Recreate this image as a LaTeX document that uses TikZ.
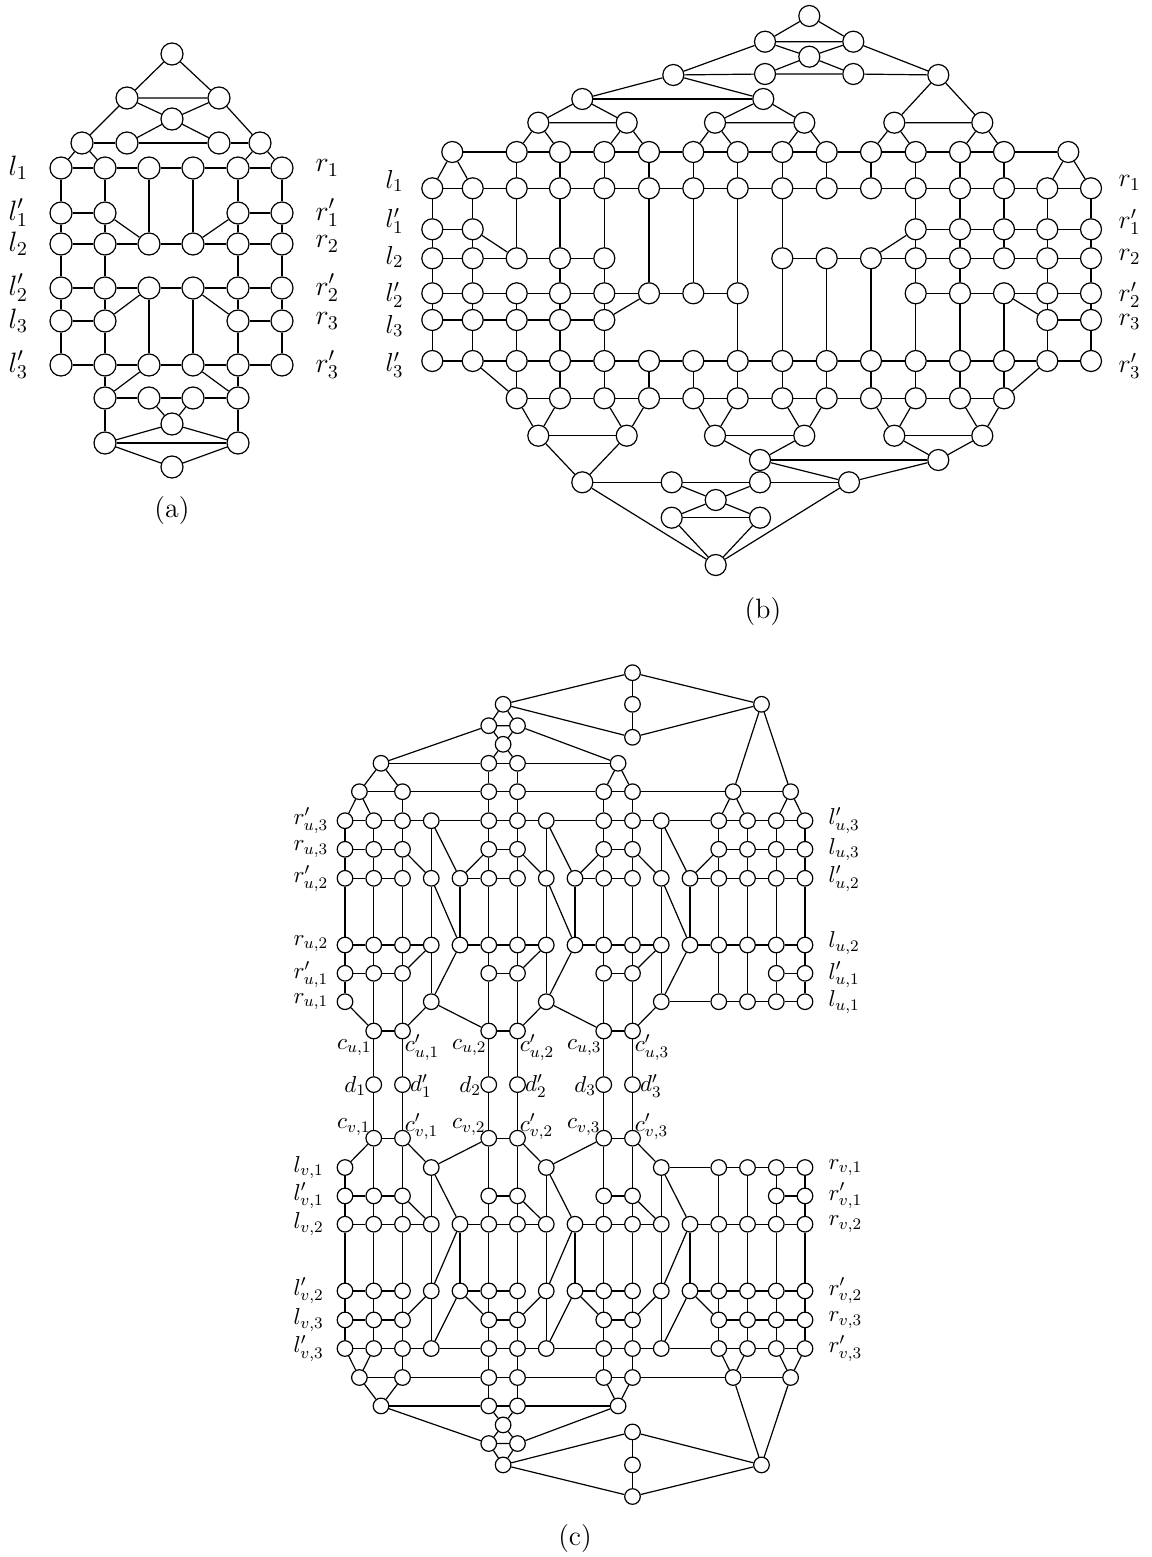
\RequirePackage{fix-cm}
\documentclass[tikz,border=0pt]{standalone}
\tikzset{
 va/.style={circle,draw,fill=white,inner sep=0pt,minimum size=11pt},
 vb/.style={circle,draw,fill=white,inner sep=0pt,minimum size=10.5pt},
 vc/.style={circle,draw,fill=white,inner sep=0pt,minimum size=7.8pt},
 laba/.style={inner sep=0pt,anchor=west,font=\fontsize{14}{16}\selectfont},
 labb/.style={inner sep=0pt,anchor=west,font=\fontsize{13}{15}\selectfont},
 labc/.style={inner sep=0pt,font=\fontsize{11.5}{13}\selectfont},
 captxt/.style={inner sep=0pt,font=\fontsize{14}{16}\selectfont}
}
\newcommand\hchain[3]{\foreach \ii in {#2,...,#3}{\pgfmathtruncatemacro\jj{\ii+1}\draw (#1-\ii)--(#1-\jj);}}
\newcommand\vedge[3]{\foreach \ii in {#3}{\draw (#1-\ii)--(#2-\ii);}}
\newcommand\pedge[3]{\foreach \pa/\pb in {#3}{\draw (#1-\pa)--(#2-\pb);}}
\newcommand\chalf[3]{%
 \foreach \rr/\yy/\colset in {1/820.7/{0,1,2,3,5,6,7,9,10,11,13,14,15,16},2/849.3/{0,1,2,5,6,9,10,13,14,15,16},3/878.3/{0,...,16},4/945/{0,...,16},5/973.3/{0,1,2,5,6,9,10,15,16},6/1001.7/{0,3,7,11,13,14,15,16},7/1031/{1,2,5,6,9,10}}{%
   \foreach \cc in \colset {\node[vc] (#1-\rr-\cc) at ({345+28.75*\cc},{#3+(#2)*\yy}) {};}}
 \foreach \nn/\xx/\yy in {X0/359.4/791.7,X2/402.5/791.7,X5/488.75/791.7,X6/517.5/791.7,X9/603.75/791.7,X10/632.5/791.7,X13/733.1/791.7,X15/790.6/791.7,Y/381/763.3,N5/488.75/763.3,N6/517.5/763.3,W/618.1/763.3,Q/503.1/744.3,P5/488.75/725.7,P6/517.5/725.7,J/503.1/704.3,R/761.5/704.3,K0/632.5/672.7,K1/632.5/704.3,K2/632.5/737.3}
   {\node[vc] (#1\nn) at (\xx,{#3+(#2)*\yy}) {};}
}
\newcommand\cedges[1]{%
\draw (#1K0)--(#1K1)--(#1K2);
\draw (#1J)--(#1K0)--(#1R);
\draw (#1J)--(#1K2)--(#1R);
\draw (#1P5)--(#1J)--(#1P6)--(#1P5);
\draw (#1Y)--(#1P5); \draw (#1W)--(#1P6);
\draw (#1P5)--(#1Q)--(#1P6); \draw (#1N5)--(#1Q)--(#1N6);
\draw (#1Y)--(#1N5)--(#1N6)--(#1W);
\draw (#1X0)--(#1Y)--(#1X2); \draw (#1X9)--(#1W)--(#1X10);
\draw (#1N5)--(#1X5); \draw (#1N6)--(#1X6);
\draw (#1X0)--(#1X2)--(#1X5)--(#1X6)--(#1X9)--(#1X10)--(#1X13)--(#1X15);
\draw (#1X13)--(#1R)--(#1X15);
\draw (#1-1-0)--(#1X0)--(#1-1-1); \draw (#1X2)--(#1-1-2); \draw (#1X5)--(#1-1-5); \draw (#1X6)--(#1-1-6); \draw (#1X9)--(#1-1-9); \draw (#1X10)--(#1-1-10);
\draw (#1-1-13)--(#1X13)--(#1-1-14); \draw (#1-1-15)--(#1X15)--(#1-1-16);
\pedge{#1-1}{#1-1}{0/1,1/2,2/3,3/5,5/6,6/7,7/9,9/10,10/11,11/13,13/14,14/15,15/16}
\vedge{#1-1}{#1-2}{0,1,2,5,6,9,10,13,14,15,16}
\pedge{#1-1}{#1-3}{3/3,3/4,7/7,7/8,11/11,11/12}
\pedge{#1-2}{#1-2}{0/1,1/2,5/6,9/10,13/14,14/15,15/16}
\vedge{#1-2}{#1-3}{0,1,2,5,6,9,10,13,14,15,16}
\pedge{#1-2}{#1-3}{2/3,5/4,6/7,9/8,10/11,13/12}
\pedge{#1-3}{#1-3}{0/1,1/2,4/5,5/6,8/9,9/10,12/13,13/14,14/15,15/16}
\vedge{#1-3}{#1-4}{0,...,16}
\pedge{#1-3}{#1-4}{3/4,7/8,11/12}
\pedge{#1-4}{#1-4}{0/1,1/2,2/3,4/5,5/6,6/7,8/9,9/10,10/11,12/13,13/14,14/15,15/16}
\pedge{#1-4}{#1-5}{0/0,1/1,2/2,3/2,5/5,6/6,7/6,9/9,10/10,11/10,15/15,16/16}
\pedge{#1-4}{#1-6}{3/3,4/3,7/7,8/7,11/11,12/11,13/13,14/14}
\pedge{#1-5}{#1-5}{0/1,1/2,5/6,9/10,15/16}
\pedge{#1-5}{#1-6}{0/0,15/15,16/16}
\pedge{#1-5}{#1-7}{1/1,2/2,5/5,6/6,9/9,10/10}
\pedge{#1-6}{#1-6}{11/13,13/14,14/15,15/16}
\pedge{#1-6}{#1-7}{0/1,3/2,3/5,7/6,7/9,11/10}
\pedge{#1-7}{#1-7}{1/2,5/6,9/10}
}
\begin{document}
\begin{tikzpicture}[x=0.5pt,y=-0.5pt,line width=0.6pt]
\useasboundingbox (0,0) rectangle (1151,1557);
%%%%%%%%%%%%%%%% (a)
\foreach \rr/\yy/\colset in {1/168/{0,...,5},2/213/{0,1,4,5},3/244/{0,...,5},4/288/{0,...,5},5/321/{0,1,4,5},6/365/{0,...,5}}
 {\foreach \cc in \colset {\pgfmathsetmacro\xx{{61,105,149,193,238,282}[\cc]}\node[va] (a-\rr-\cc) at (\xx,\yy) {};}}
\node[va] (aT) at (172,54) {};
\node[va] (aA1) at (127,98) {};
\node[va] (aA2) at (219,98) {};
\node[va] (aM) at (172,119) {};
\node[va] (aB0) at (82,143) {};
\node[va] (aB1) at (127,143) {};
\node[va] (aB2) at (219,143) {};
\node[va] (aB3) at (260,143) {};
\node[va] (aC1) at (105,398) {};
\node[va] (aC2) at (149,398) {};
\node[va] (aC3) at (193,398) {};
\node[va] (aC4) at (238,398) {};
\node[va] (aM2) at (172,424) {};
\node[va] (aD1) at (105,443) {};
\node[va] (aD2) at (238,443) {};
\node[va] (aE) at (172,467) {};
\draw (aT)--(aA1)--(aA2)--(aT);
\draw (aA1)--(aM)--(aA2);
\draw (aA1)--(aB0); \draw (aA2)--(aB3);
\draw (aM)--(aB1); \draw (aM)--(aB2);
\draw (aB0)--(aB1)--(aB2)--(aB3);
\draw (aB0)--(a-1-0); \draw (aB0)--(a-1-1); \draw (aB3)--(a-1-4); \draw (aB3)--(a-1-5);
\hchain{a-1}{0}{4}
\vedge{a-1}{a-2}{0,1,4,5}
\vedge{a-1}{a-3}{2,3}
\draw (a-2-0)--(a-2-1); \draw (a-2-4)--(a-2-5); \draw (a-2-1)--(a-3-2); \draw (a-2-4)--(a-3-3);
\vedge{a-2}{a-3}{0,1,4,5}
\hchain{a-3}{0}{4}
\vedge{a-3}{a-4}{0,1,4,5}
\hchain{a-4}{0}{4}
\vedge{a-4}{a-5}{0,1,4,5}
\vedge{a-4}{a-6}{2,3}
\draw (a-4-2)--(a-5-1); \draw (a-4-3)--(a-5-4);
\draw (a-5-0)--(a-5-1); \draw (a-5-4)--(a-5-5);
\vedge{a-5}{a-6}{0,1,4,5}
\hchain{a-6}{0}{4}
\draw (a-6-1)--(aC1); \draw (a-6-2)--(aC1); \draw (a-6-4)--(aC4); \draw (a-6-3)--(aC4);
\draw (aC1)--(aC2)--(aC3)--(aC4);
\draw (aC2)--(aM2)--(aC3);
\draw (aC1)--(aD1); \draw (aC4)--(aD2);
\draw (aD1)--(aD2); \draw (aD1)--(aM2)--(aD2);
\draw (aD1)--(aE)--(aD2);
\node[laba] (al1) at (8,168) {$l_1$};
\node[laba] (al1p) at (8,213) {$l'_1$};
\node[laba] (al2) at (8,244) {$l_2$};
\node[laba] (al2p) at (8,288) {$l'_2$};
\node[laba] (al3) at (8,321) {$l_3$};
\node[laba] (al3p) at (8,365) {$l'_3$};
\node[laba] (ar1) at (315,168) {$r_1$};
\node[laba] (ar1p) at (315,213) {$r'_1$};
\node[laba] (ar2) at (315,244) {$r_2$};
\node[laba] (ar2p) at (315,288) {$r'_2$};
\node[laba] (ar3) at (315,321) {$r_3$};
\node[laba] (ar3p) at (315,365) {$r'_3$};
\node[captxt] (capa) at (172,511) {(a)};
%%%%%%%%%%%%%%%% (b)
\foreach \rr/\yy/\colset in {0/152/{2,...,13},1/188.3/{0,...,15},2/229.3/{0,1,11,12,13,14,15},3/258.3/{0,1,2,3,4,8,9,10,11,12,13,14,15},4/293.3/{0,...,7,11,12,13,14,15},5/320/{0,...,4,14,15},6/361/{0,...,15},7/398.3/{2,...,13}}
 {\foreach \cc in \colset {\pgfmathsetmacro\xx{{432.3,472.7,516.7,560,604.3,649,693.3,737.7,782.3,826.7,871,915.7,960,1004,1047.3,1091}[\cc]}\node[vb] (b-\rr-\cc) at (\xx,\yy) {};}}
\foreach \nn/\xx/\yy in {T0/452.3/152,T1/1068.3/152,TT/809.3/16,H1/765/41.7,H2/853.3/41.7,HM/809.3/56.7,G1/765/74,G2/853.3/74,GR/938.3/75,GL/673.3/75,F1/582.3/99,F2/763.3/99,E1/538.3/122.7,E2/626.7/122.7,E3/715/122.7,E4/804.3/122.7,E5/894.3/122.7,E6/982.3/122.7,P1/538.3/435.7,P2/626.7/435.7,P3/715/435.7,P4/804.3/435.7,P5/894.3/435.7,P6/982.3/435.7,Q1/582.3/482.3,Q2/760/460,Q3/938.3/460,Q4/849/482.3,S1/671.7/482.3,S2/760/482.3,M/715.7/500,U1/671.7/517.7,U2/760/517.7,Z/715.7/565}
 {\node[vb] (b\nn) at (\xx,\yy) {};}
\draw (bTT)--(bH1)--(bH2)--(bTT);
\draw (bH1)--(bHM)--(bH2);
\draw (bG1)--(bHM)--(bG2);
\draw (bGL)--(bG1)--(bG2)--(bGR);
\draw (bGL)--(bH1); \draw (bGL)--(bF2); \draw (bH2)--(bGR);
\draw (bE5)--(bGR)--(bE6)--(bE5);
\draw (bF1)--(bGL); \draw (bF1)--(bF2);
\draw (bE1)--(bF1)--(bE2)--(bE1);
\draw (bE3)--(bF2)--(bE4)--(bE3);
\foreach \nn/\pa/\pb in {E1/2/3,E2/4/5,E3/6/7,E4/8/9,E5/10/11,E6/12/13}
 {\draw (b-0-\pa)--(b\nn)--(b-0-\pb);}
\draw (bT0)--(b-0-2); \hchain{b-0}{2}{12} \draw (b-0-13)--(bT1);
\draw (b-1-0)--(bT0)--(b-1-1); \draw (b-1-14)--(bT1)--(b-1-15);
\vedge{b-0}{b-1}{2,...,13}
\hchain{b-1}{0}{14}
\vedge{b-1}{b-2}{0,1,11,12,13,14,15}
\vedge{b-1}{b-3}{2,3,4,8}
\vedge{b-1}{b-4}{5,6,7}
\draw (b-2-0)--(b-2-1); \hchain{b-2}{11}{14}
\draw (b-2-1)--(b-3-2); \draw (b-2-11)--(b-3-10);
\vedge{b-2}{b-3}{0,1,11,12,13,14,15}
\hchain{b-3}{0}{3} \hchain{b-3}{8}{14}
\vedge{b-3}{b-4}{0,1,3,4,11,12,14,15}
\vedge{b-3}{b-6}{8,9,10}
\hchain{b-4}{0}{6} \hchain{b-4}{11}{14}
\draw (b-5-4)--(b-4-5); \draw (b-4-13)--(b-5-14);
\vedge{b-4}{b-5}{0,...,4,14,15}
\vedge{b-4}{b-6}{7,11,12,13}
\hchain{b-5}{0}{3} \draw (b-5-14)--(b-5-15);
\vedge{b-5}{b-6}{0,...,4,14,15}
\hchain{b-6}{0}{14}
\vedge{b-6}{b-7}{2,...,13}
\draw (b-6-1)--(b-7-2); \draw (b-6-14)--(b-7-13);
\hchain{b-7}{2}{12}
\foreach \nn/\pa/\pb in {P1/2/3,P2/4/5,P3/6/7,P4/8/9,P5/10/11,P6/12/13}
 {\draw (b-7-\pa)--(b\nn)--(b-7-\pb);}
\draw (bP1)--(bP2); \draw (bP3)--(bP4); \draw (bP5)--(bP6);
\draw (bP1)--(bQ1)--(bP2);
\draw (bP3)--(bQ2)--(bP4);
\draw (bP5)--(bQ3)--(bP6);
\draw (bQ2)--(bQ3); \draw (bQ2)--(bQ4)--(bQ3);
\draw (bQ1)--(bS1)--(bS2)--(bQ4);
\draw (bS1)--(bM)--(bS2); \draw (bU1)--(bM)--(bU2); \draw (bU1)--(bU2);
\draw (bU1)--(bZ)--(bU2); \draw (bQ1)--(bZ)--(bQ4);
\node[labb] (bl1) at (385,181) {$l_1$};
\node[labb] (bl1p) at (385,221) {$l'_1$};
\node[labb] (bl2) at (385,257) {$l_2$};
\node[labb] (bl2p) at (385,295) {$l'_2$};
\node[labb] (bl3) at (385,326) {$l_3$};
\node[labb] (bl3p) at (385,365) {$l'_3$};
\node[labb] (br1) at (1118,183) {$r_1$};
\node[labb] (br1p) at (1118,222) {$r'_1$};
\node[labb] (br2) at (1118,257) {$r_2$};
\node[labb] (br2p) at (1118,295) {$r'_2$};
\node[labb] (br3) at (1118,322) {$r_3$};
\node[labb] (br3p) at (1118,366) {$r'_3$};
\node[captxt] (capb) at (763,612) {(b)};
%%%%%%%%%%%%%%%% (c)
\chalf{u}{1}{0}
\chalf{v}{-1}{2169.2}
\foreach \cc in {1,2,5,6,9,10} {\node[vc] (d-\cc) at ({345+28.75*\cc},1084.6) {};}
\cedges{u}
\cedges{v}
\foreach \cc in {1,2,5,6,9,10} {\draw (u-7-\cc)--(d-\cc)--(v-7-\cc);}
\node[labc,anchor=west] (cl1) at (293,820.7) {$r'_{u,3}$};
\node[labc,anchor=west] (cl2) at (293,849.3) {$r_{u,3}$};
\node[labc,anchor=west] (cl3) at (293,878.3) {$r'_{u,2}$};
\node[labc,anchor=west] (cl4) at (293,943.5) {$r_{u,2}$};
\node[labc,anchor=west] (cl5) at (293,974.5) {$r'_{u,1}$};
\node[labc,anchor=west] (cl6) at (293,1001.7) {$r_{u,1}$};
\node[labc,anchor=west] (cr1) at (828,820.7) {$l'_{u,3}$};
\node[labc,anchor=west] (cr2) at (828,849.3) {$l_{u,3}$};
\node[labc,anchor=west] (cr3) at (828,878.3) {$l'_{u,2}$};
\node[labc,anchor=west] (cr4) at (828,943) {$l_{u,2}$};
\node[labc,anchor=west] (cr5) at (828,975) {$l'_{u,1}$};
\node[labc,anchor=west] (cr6) at (828,1002) {$l_{u,1}$};
\node[labc,anchor=west] (dl6) at (293,1167.5) {$l_{v,1}$};
\node[labc,anchor=west] (dl5) at (293,1195.9) {$l'_{v,1}$};
\node[labc,anchor=west] (dl4) at (293,1224.2) {$l_{v,2}$};
\node[labc,anchor=west] (dl3) at (293,1290.9) {$l'_{v,2}$};
\node[labc,anchor=west] (dl2) at (293,1319.9) {$l_{v,3}$};
\node[labc,anchor=west] (dl1) at (293,1348.5) {$l'_{v,3}$};
\node[labc,anchor=west] (dr6) at (828,1167.5) {$r_{v,1}$};
\node[labc,anchor=west] (dr5) at (828,1195.9) {$r'_{v,1}$};
\node[labc,anchor=west] (dr4) at (828,1224.2) {$r_{v,2}$};
\node[labc,anchor=west] (dr3) at (828,1290.9) {$r'_{v,2}$};
\node[labc,anchor=west] (dr2) at (828,1319.9) {$r_{v,3}$};
\node[labc,anchor=west] (dr1) at (828,1348.5) {$r'_{v,3}$};
\foreach \kk/\ca/\cb in {1/1/2,2/5/6,3/9/10}{
 \node[labc] (cu\kk) at ({345+28.75*\ca-19.5},1047.5) {$c_{u,\kk}$};
 \node[labc] (cup\kk) at ({345+28.75*\cb+19.5},1047.5) {$c'_{u,\kk}$};
 \node[labc] (dd\kk) at ({345+28.75*\ca-18.5},1086) {$d_{\kk}$};
 \node[labc] (ddp\kk) at ({345+28.75*\cb+18.5},1086) {$d'_{\kk}$};
 \node[labc] (cv\kk) at ({345+28.75*\ca-20},1127) {$c_{v,\kk}$};
 \node[labc] (cvp\kk) at ({345+28.75*\cb+19},1127) {$c'_{v,\kk}$};
}
\node[captxt] (capc) at (575,1538) {(c)};
\end{tikzpicture}
\end{document}
